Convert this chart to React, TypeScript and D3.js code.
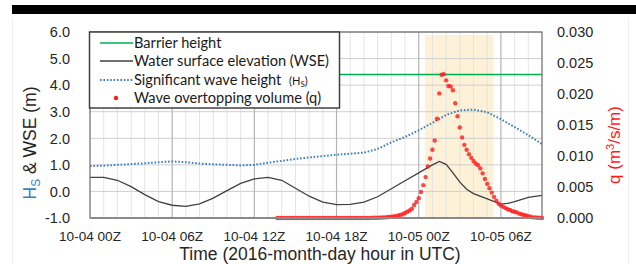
import * as d3 from 'd3';

// hours since 2016-10-04 00Z
const hsValues = [
  0.95, 0.97, 1.0, 1.03, 1.06, 1.1, 1.13, 1.1, 1.05, 1.02, 1.0, 0.98, 1.0,
  1.08, 1.15, 1.22, 1.28, 1.33, 1.38, 1.42, 1.46, 1.6, 1.85, 2.05, 2.3, 2.58,
  2.88, 3.05, 3.08, 2.98, 2.72, 2.42, 2.12, 1.78,
];

const wseHours = [
  0, 1, 2, 3, 4, 5, 6, 7, 8, 9, 10, 11, 12, 13, 14, 15, 16, 17, 18, 19, 20, 21,
  22, 23, 24, 24.5, 25, 25.5, 26, 26.5, 27, 27.5, 28, 29, 30, 30.5, 31, 32, 33,
];
const wseValues = [
  0.53, 0.53, 0.42, 0.18, -0.12, -0.38, -0.52, -0.56, -0.47, -0.25, 0.03, 0.3,
  0.47, 0.53, 0.42, 0.12, -0.18, -0.4, -0.5, -0.49, -0.4, -0.2, 0.1, 0.4, 0.7,
  0.85, 1.0, 1.13, 1.02, 0.7, 0.35, 0.08, -0.08, -0.28, -0.48, -0.45, -0.38,
  -0.22, -0.15,
];

const barrierHeight = 4.4;

// overtopping volume, every 10 minutes from 10-04 13:40Z
const qStart = 13 + 40 / 60;
const qStep = 1 / 6;
const qValues = [
  0, 0,
  0, 0, 0, 0, 0, 0,
  0, 0, 0, 0, 0, 0,
  0, 0, 0, 0, 0, 0,
  0, 0, 0, 0, 0, 0,
  0, 0, 0, 0, 0, 0,
  0, 0, 0, 0, 0, 0,
  0, 0, 0, 0.00002, 0.00003, 0.00004,
  0.00005, 0.00006, 0.00008, 0.0001, 0.00012, 0.00015,
  0.0002, 0.00025, 0.0003, 0.0004, 0.0005, 0.0006,
  0.0008, 0.001, 0.0012, 0.0015, 0.0021, 0.0026,
  0.0032, 0.0042, 0.0053, 0.0066, 0.0083, 0.0096,
  0.011, 0.0125, 0.016, 0.0201, 0.0231, 0.0232,
  0.0222, 0.0213, 0.0212, 0.0206, 0.0185, 0.0164,
  0.0146, 0.013, 0.0118, 0.011, 0.0103, 0.0097,
  0.0092, 0.0088, 0.0085, 0.008, 0.0072, 0.0063,
  0.0055, 0.0048, 0.0041, 0.0034, 0.0028, 0.0023,
  0.002, 0.0018, 0.0016, 0.0014, 0.0013, 0.0011,
  0.001, 0.0009, 0.0007, 0.0006, 0.0005, 0.0004,
  0.0003, 0.0002, 0.0001, 0.0001, 0.00005, 0.00003,
  0,
];

const shadeRange = [24.45, 29.45];

const xTickHours = [0, 6, 12, 18, 24, 30];
const xTickLabels = [
  '10-04 00Z',
  '10-04 06Z',
  '10-04 12Z',
  '10-04 18Z',
  '10-05 00Z',
  '10-05 06Z',
];
const leftTicks = [-1, 0, 1, 2, 3, 4, 5, 6];
const rightTicks = [0, 0.005, 0.01, 0.015, 0.02, 0.025, 0.03];

const BLUE = '#3a7fc1';
const RED = '#ff1a1a';
const GREEN = '#00b050';
const TICK_FONT = 'Liberation Sans, Arial, sans-serif';
const LEGEND_FONT = 'Lato, Calibri, sans-serif';

export default function App() {
  const width = 636;
  const height = 264;
  const m = { left: 90, right: 94, top: 32, bottom: 46 };

  const x = d3.scaleLinear().domain([0, 33]).range([m.left, width - m.right]);
  const y = d3
    .scaleLinear()
    .domain([-1, 6])
    .range([height - m.bottom, m.top]);
  const yq = d3
    .scaleLinear()
    .domain([0, 0.03])
    .range([height - m.bottom, m.top]);

  const [x0, x1] = x.range();
  const [yb, yt] = y.range();

  const wseLine = d3
    .line<number>()
    .x((_, i) => x(wseHours[i]))
    .y((d) => y(d));
  const hsLine = d3
    .line<number>()
    .x((_, i) => x(i))
    .y((d) => y(d));

  const minorHours = d3.range(1, 33).filter((h) => h % 6 !== 0);

  return (
    <svg
      width={width}
      height={height}
      style={{ position: 'absolute', left: 0, top: 0, background: '#fff' }}
    >
      <rect x={12} y={5} width={624} height={9} fill="#000" />
      <line x1={12.5} x2={12.5} y1={18} y2={264} stroke="#eee" />
      <line x1={628.5} x2={628.5} y1={18} y2={264} stroke="#eee" />

      {/* shaded overtopping window */}
      <rect
        x={x(shadeRange[0])}
        y={yt + 3}
        width={x(shadeRange[1]) - x(shadeRange[0])}
        height={yb - yt - 3}
        fill="#fdf1d8"
      />

      {/* grid */}
      {minorHours.map((h) => (
        <line
          key={'mn' + h}
          x1={x(h)}
          x2={x(h)}
          y1={yt}
          y2={yb}
          stroke="#e4e4e4"
          strokeWidth={1}
        />
      ))}
      {leftTicks.map((t) => (
        <line
          key={'hg' + t}
          x1={x0}
          x2={x1}
          y1={y(t)}
          y2={y(t)}
          stroke="#cfcfcf"
          strokeWidth={1}
        />
      ))}
      {xTickHours.slice(1).map((h) => (
        <line
          key={'mj' + h}
          x1={x(h)}
          x2={x(h)}
          y1={yt}
          y2={yb}
          stroke="#b4b4b4"
          strokeWidth={1.2}
        />
      ))}

      {/* barrier height */}
      <line
        x1={x0}
        x2={x1}
        y1={y(barrierHeight)}
        y2={y(barrierHeight)}
        stroke={GREEN}
        strokeWidth={1.5}
      />

      {/* Hs */}
      <path
        d={hsLine(hsValues) ?? ''}
        fill="none"
        stroke={BLUE}
        strokeWidth={2}
        strokeDasharray="1.6,1.8"
      />

      {/* WSE */}
      <path
        d={wseLine(wseValues) ?? ''}
        fill="none"
        stroke="#404040"
        strokeWidth={1.3}
      />

      {/* q */}
      {qValues.map((q, i) => (
        <circle
          key={'q' + i}
          cx={x(qStart + i * qStep)}
          cy={yq(q)}
          r={2.2}
          fill={RED}
          fillOpacity={0.8}
        />
      ))}

      {/* frame */}
      <rect
        x={x0}
        y={yt}
        width={x1 - x0}
        height={yb - yt}
        fill="none"
        stroke="#6a6a6a"
        strokeWidth={1.2}
      />
      <line x1={x0} x2={x1} y1={yb} y2={yb} stroke="#8a8a8a" strokeWidth={2} />

      {/* legend */}
      <g fontFamily={LEGEND_FONT} fontSize={14.6} fill="#1a1a1a">
        <rect
          x={x0 - 0.5}
          y={yt}
          width={250}
          height={76}
          fill="#fff"
          stroke="#404040"
          strokeWidth={1.5}
        />
        <line x1={100} x2={133} y1={43} y2={43} stroke={GREEN} strokeWidth={1.5} />
        <text x={134} y={48}>Barrier height</text>
        <line x1={100} x2={133} y1={61} y2={61} stroke="#404040" strokeWidth={1.3} />
        <text x={134} y={66}>Water surface elevation (WSE)</text>
        <line
          x1={100}
          x2={133}
          y1={80}
          y2={80}
          stroke={BLUE}
          strokeWidth={2}
          strokeDasharray="1.6,1.8"
        />
        <text x={134} y={85}>
          Significant wave height{'  '}
          <tspan fontSize={11} dx={4}>(H</tspan>
          <tspan fontSize={8} dy={2}>S</tspan>
          <tspan fontSize={11} dy={-2}>)</tspan>
        </text>
        <circle cx={116} cy={98} r={2.2} fill={RED} />
        <text x={134} y={103}>Wave overtopping volume (q)</text>
      </g>

      {/* ticks */}
      <g fontFamily={TICK_FONT} fontSize={14.5} fill="#262626">
        {leftTicks.map((t) => (
          <text key={'l' + t} x={70} y={y(t)} dy="0.36em" textAnchor="end">
            {t.toFixed(1)}
          </text>
        ))}
        {rightTicks.map((t) => (
          <text key={'r' + t} x={557} y={yq(t)} dy="0.36em">
            {t.toFixed(3)}
          </text>
        ))}
      </g>
      <g fontFamily={TICK_FONT} fontSize={13.6} fill="#262626">
        {xTickHours.map((h, i) => (
          <text key={'x' + h} x={x(h)} y={240.5} textAnchor="middle">
            {xTickLabels[i]}
          </text>
        ))}
      </g>

      {/* axis titles */}
      <text
        x={320}
        y={259.5}
        textAnchor="middle"
        fontFamily={TICK_FONT}
        fontSize={17.5}
        fill="#262626"
      >
        Time (2016-month-day hour in UTC)
      </text>
      <text
        transform="translate(36,143) rotate(-90)"
        textAnchor="middle"
        fontFamily={TICK_FONT}
        fontSize={17.5}
        fill="#262626"
      >
        <tspan fill={BLUE}>H</tspan>
        <tspan fill={BLUE} fontSize={12} dy={4}>S</tspan>
        <tspan dy={-4}> &amp; WSE (m)</tspan>
      </text>
      <text
        transform="translate(620,145) rotate(-90)"
        textAnchor="middle"
        fontFamily={TICK_FONT}
        fontSize={17}
        fill={RED}
      >
        q (m<tspan fontSize={11} dy={-6}>3</tspan>
        <tspan dy={6}>/s/m)</tspan>
      </text>
    </svg>
  );
}
